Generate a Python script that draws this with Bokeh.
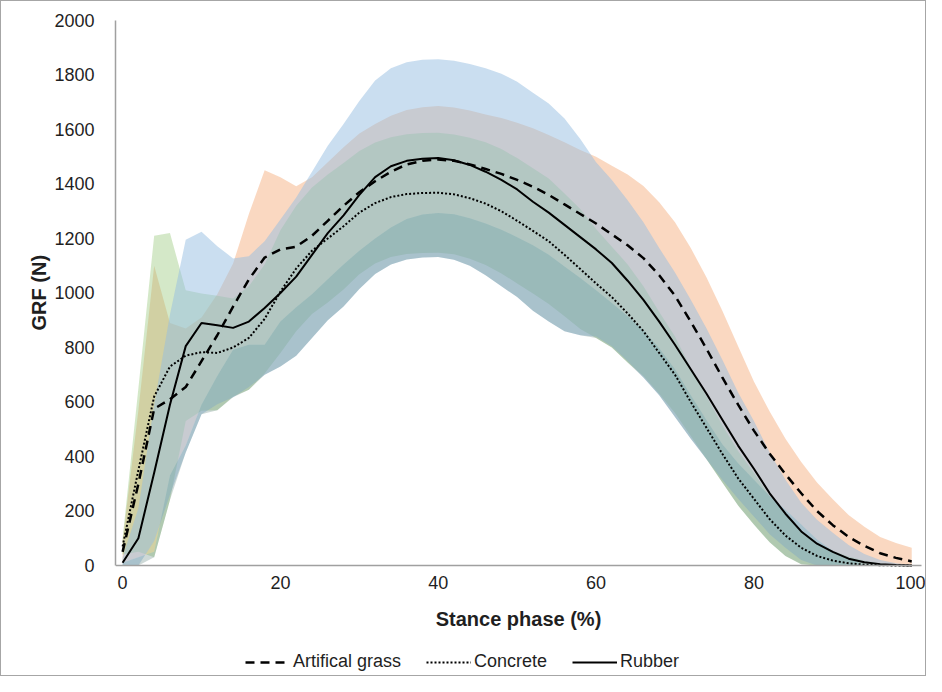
from bokeh.plotting import figure
from bokeh.models import Range1d, FixedTicker, Legend, LegendItem, Title
from bokeh.embed import file_html
from bokeh.resources import INLINE

# ---------------- data ----------------
stance = list(range(0, 101, 2))

rubber_mean = [10, 100, 340, 590, 805, 890, 882, 872, 895, 945, 1000, 1060, 1140, 1220, 1285, 1360,
               1425, 1465, 1485, 1493, 1495, 1487, 1470, 1445, 1415, 1380, 1335, 1295, 1250, 1205,
               1160, 1110, 1045, 975, 895, 810, 720, 630, 535, 440, 355, 265, 190, 125, 80, 50, 25,
               12, 5, 2, 0]
rubber_sd = [20, 110, 250, 330, 390, 335, 290, 255, 240, 245, 270, 290, 305, 320, 335, 345,
             355, 360, 362, 363, 363, 365, 370, 380, 390, 395, 400, 400, 390, 360,
             320, 305, 295, 285, 270, 265, 255, 240, 220, 195, 175, 150, 125, 105, 88, 70, 50,
             30, 15, 6, 2]

grass_mean = [50, 300, 575, 610, 655, 750, 845, 950, 1050, 1130, 1160, 1170, 1210, 1265, 1320, 1370,
              1410, 1445, 1472, 1485, 1490, 1485, 1472, 1455, 1437, 1415, 1390, 1360, 1325, 1290,
              1255, 1215, 1175, 1128, 1065, 990, 895, 795, 690, 590, 495, 410, 335, 265, 200, 148,
              105, 72, 45, 28, 15]
grass_sd = [40, 270, 525, 280, 215, 160, 150, 158, 240, 320, 265, 222, 215, 215, 215, 215,
            210, 205, 200, 197, 196, 196, 198, 200, 205, 210, 215, 220, 228, 235,
            245, 252, 260, 265, 268, 270, 270, 262, 245, 215, 180, 155, 130, 115, 105, 95,
            80, 70, 60, 55, 50]

concrete_mean = [70, 350, 620, 730, 770, 783, 780, 800, 835, 905, 1005, 1090, 1155, 1200, 1245, 1295,
                 1330, 1352, 1363, 1367, 1368, 1362, 1348, 1328, 1300, 1265, 1228, 1190, 1140, 1088,
                 1035, 985, 925, 860, 780, 700, 600, 505, 410, 320, 245, 170, 110, 65, 35, 18,
                 8, 3, 1, 0, 0]
concrete_sd = [30, 300, 590, 490, 240, 215, 210, 180, 190, 200, 225, 230, 232, 235, 232, 226,
               222, 220, 220, 220, 220, 220, 222, 225, 228, 230, 230, 230, 225, 220,
               200, 185, 180, 165, 150, 140, 125, 115, 105, 100, 95, 85, 75, 60, 48, 36,
               25, 14, 6, 2, 0]

x_ticks = [0, 20, 40, 60, 80, 100]
y_ticks = list(range(0, 2001, 200))
labels = ["Artifical grass", "Concrete", "Rubber"]

# ---------------- derived band limits ----------------
def band(mean, sd):
    lo = [max(m - s, 0) for m, s in zip(mean, sd)]
    hi = [m + s for m, s in zip(mean, sd)]
    return lo, hi

g_lo, g_hi = band(grass_mean, grass_sd)
c_lo, c_hi = band(concrete_mean, concrete_sd)
r_lo, r_hi = band(rubber_mean, rubber_sd)
lowest = [min(a, b, c) for a, b, c in zip(g_lo, c_lo, r_lo)]
under = [max(l, g) for l, g in zip(lowest, g_lo)]

FONT = "Liberation Sans"
TXT = "#1f1f1f"

# y range extends below 0 so that the legend strip lives inside the frame
p = figure(width=926, height=676, x_range=Range1d(-0.9, 102.0), y_range=Range1d(-403.7, 2000),
           output_backend="svg", toolbar_location=None,
           min_border_left=114, min_border_top=19, min_border_right=0, min_border_bottom=2)
p.styles = {"border": "1px solid #a6a6a6"}
p.xgrid.visible = False
p.ygrid.visible = False
p.outline_line_color = None
p.background_fill_color = "white"
p.border_fill_color = "white"

# shaded bands
p.varea(x=stance, y1=g_lo, y2=g_hi, fill_color="#ED7D31", fill_alpha=0.3)
p.varea(x=stance, y1=c_lo, y2=c_hi, fill_color="#93C575", fill_alpha=0.4)
p.varea(x=stance, y1=r_lo, y2=r_hi, fill_color="#96BEE1", fill_alpha=0.5)
p.varea(x=stance, y1=lowest, y2=under, fill_color="#5E807C", fill_alpha=0.3)

# mean curves
lg = p.line(stance, grass_mean, line_color="black", line_width=2.5, line_dash="9 6")
lc = p.line(stance, concrete_mean, line_color="black", line_width=2, line_dash="2 2")
lr = p.line(stance, rubber_mean, line_color="black", line_width=2)

# axes
for ax in (p.xaxis[0], p.yaxis[0]):
    ax.axis_line_color = "#a0a0a0"
    ax.axis_line_width = 1.5
    ax.major_tick_line_color = None
    ax.minor_tick_line_color = None
    ax.major_label_text_font = FONT
    ax.major_label_text_font_size = "18px"
    ax.major_label_text_color = TXT
    ax.axis_label_text_font = FONT
    ax.axis_label_text_font_size = "20px"
    ax.axis_label_text_font_style = "bold"
    ax.axis_label_text_color = TXT

p.xaxis.ticker = FixedTicker(ticks=x_ticks)
p.yaxis.ticker = FixedTicker(ticks=y_ticks)
p.xaxis.fixed_location = 0
p.xaxis.bounds = (-0.9, 101.3)
p.yaxis.bounds = (0, 2000)
p.xaxis.axis_label = "Stance phase (%)"
p.xaxis.major_label_standoff = 5
p.xaxis.axis_label_standoff = 15
p.yaxis.major_label_standoff = 15

ytitle = Title(text="GRF (N)", align="left", offset=345, standoff=3,
               text_font=FONT, text_font_size="20px", text_font_style="bold", text_color=TXT)
p.add_layout(ytitle, "left")

legend = Legend(items=[LegendItem(label=labels[0], renderers=[lg]),
                       LegendItem(label=labels[1], renderers=[lc]),
                       LegendItem(label=labels[2], renderers=[lr])],
                orientation="horizontal", location=(130, 3))
legend.glyph_width = 45
legend.glyph_height = 16
legend.label_standoff = 3
legend.spacing = 25
legend.padding = 0
legend.margin = 0
legend.border_line_color = None
legend.background_fill_alpha = 0
legend.label_text_font = FONT
legend.label_text_font_size = "18px"
legend.label_text_color = TXT
p.add_layout(legend, "center")

open("out.html", "w").write(file_html(p, INLINE))
